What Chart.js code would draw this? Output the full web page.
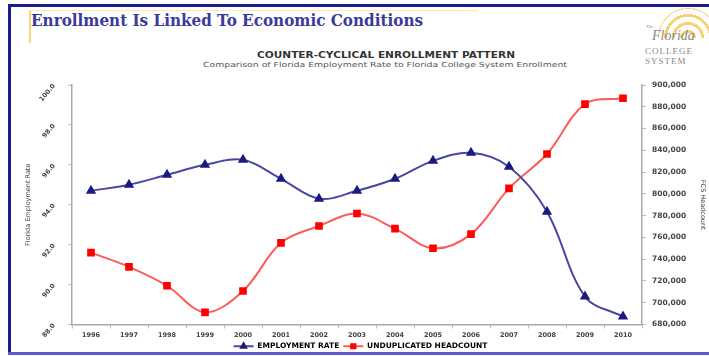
<!DOCTYPE html>
<html>
<head>
<meta charset="utf-8">
<script src="https://cdn.jsdelivr.net/npm/chart.js@4.4.1/dist/chart.umd.min.js"></script>
<style>
  html, body { margin: 0; padding: 0; background: #fff; }
  body { width: 709px; height: 356px; position: relative; overflow: hidden; }
  .abs { position: absolute; white-space: nowrap; transform-origin: 0 50%; }
  .bar { position: absolute; }
  #slideTitle { left: 31px; top: 8px; font: bold 17px "DejaVu Serif", serif; line-height: 24px; color: #3a3a9a; }
  #head1 { top: 51px; font: bold 8px "DejaVu Sans", sans-serif; line-height: 9px; color: #333; }
  #head2 { top: 61px; font: 7px "DejaVu Sans", sans-serif; line-height: 8px; color: #555; }
  #sun { position: absolute; left: 658px; top: 8px; width: 60px; height: 30px; border-radius: 30px 30px 0 0;
         background: repeating-radial-gradient(circle at 50% 100%, #fff 0 5px, #f6c64e 5px 8px); opacity: 0.8; }
  .logo { position: absolute; font-family: "Liberation Serif", serif; color: #8a8a8a; white-space: nowrap; }
  #chartBox { position: absolute; left: 12px; top: 72px; width: 697px; height: 288px; }
</style>
</head>
<body>
<div class="bar" style="left:8px;top:4px;width:701px;height:3px;background:#1c1c8e"></div>
<div class="bar" style="left:8px;top:4px;width:3px;height:351px;background:#1c1c8e"></div>
<div class="bar" style="left:8px;top:352px;width:701px;height:3px;background:#5b5bd0"></div>
<div class="bar" style="left:28px;top:10px;width:450px;height:1px;background:#fbe9b0"></div>
<div class="bar" style="left:29px;top:11px;width:2px;height:32px;background:#f8d870"></div>

<div id="slideTitle" class="abs">Enrollment Is Linked To Economic Conditions</div>

<div id="sun"></div>
<div class="logo" style="left:646px;top:24px;font-size:5px">The</div>
<div class="logo" style="left:652px;top:28px;font-size:14px;font-style:italic">Florida</div>
<div class="logo" style="left:645px;top:46px;font-size:9px;letter-spacing:1px">COLLEGE</div>
<div class="logo" style="left:645px;top:56px;font-size:9px;letter-spacing:1px">SYSTEM</div>

<div id="head1" class="abs">COUNTER-CYCLICAL ENROLLMENT PATTERN</div>
<div id="head2" class="abs">Comparison of Florida Employment Rate to Florida College System Enrollment</div>

<div id="chartBox"><canvas id="enrollChart"></canvas></div>

<script>
const years = ["1996", "1997", "1998", "1999", "2000", "2001", "2002", "2003",
  "2004", "2005", "2006", "2007", "2008", "2009", "2010"];
const employmentRate = [94.7, 95.0, 95.5, 96.0, 96.25, 95.3, 94.3, 94.7,
  95.3, 96.2, 96.6, 95.9, 93.65, 89.4, 88.4];
const headcount = [746000, 733000, 715600, 691200, 710800, 755000, 770500, 782000,
  768000, 750000, 763000, 805000, 836600, 882500, 887800];
const rateTicks = [88, 90, 92, 94, 96, 98, 100];
const headcountTicks = [680000, 700000, 720000, 740000, 760000, 780000, 800000,
  820000, 840000, 860000, 880000, 900000];

// stretch the html headings to the widths seen in the picture
function fitText(id, width, centerX) {
  const el = document.getElementById(id);
  const natural = el.getBoundingClientRect().width;
  el.style.transform = "scaleX(" + (width / natural) + ")";
  if (centerX !== undefined) el.style.left = (centerX - width / 2) + "px";
}
fitText("slideTitle", 392);
fitText("head1", 258, 386);
fitText("head2", 364, 385);

const tickFont = { family: "DejaVu Sans", size: 6.5, weight: "bold" };

// fixed axis widths, and no extra room for the end labels
function fixWidth(width) {
  return (scale) => {
    scale.width = width;
    scale.paddingTop = 0;
    scale.paddingBottom = 0;
  };
}

// legend: line with the series marker on top
const legendMarkers = {
  id: "legendMarkers",
  afterDraw(chart) {
    const legend = chart.legend;
    if (!legend || !legend.legendHitBoxes) return;
    const ctx = chart.ctx;
    const boxW = legend.options.labels.boxWidth;
    legend.legendHitBoxes.forEach((box, i) => {
      const ds = chart.data.datasets[i];
      const cy = box.top + box.height / 2;
      ctx.save();
      ctx.strokeStyle = ds.borderColor;
      ctx.lineWidth = 2;
      ctx.beginPath();
      ctx.moveTo(box.left, cy);
      ctx.lineTo(box.left + boxW, cy);
      ctx.stroke();
      ctx.fillStyle = ds.pointBackgroundColor;
      ctx.strokeStyle = ds.pointBorderColor;
      Chart.helpers.drawPoint(ctx, { pointStyle: ds.pointStyle, radius: 3, borderWidth: 1 },
        box.left + boxW / 2, cy);
      ctx.restore();
    });
  },
};

new Chart(document.getElementById("enrollChart"), {
  type: "line",
  data: {
    labels: years,
    datasets: [
      {
        label: "EMPLOYMENT RATE",
        data: employmentRate,
        yAxisID: "y",
        borderColor: "#4848a0",
        borderWidth: 2,
        tension: 0.35,
        pointStyle: "triangle",
        pointRadius: 4,
        pointBackgroundColor: "#1a1a80",
        pointBorderColor: "#1a1a80",
      },
      {
        label: "UNDUPLICATED HEADCOUNT",
        data: headcount,
        yAxisID: "y1",
        borderColor: "#ff5a5a",
        borderWidth: 2,
        tension: 0.35,
        pointStyle: "rect",
        pointRadius: 4,
        pointBackgroundColor: "#ff0000",
        pointBorderColor: "#ff0000",
      },
    ],
  },
  options: {
    responsive: true,
    maintainAspectRatio: false,
    animation: false,
    layout: { padding: { top: 13, bottom: 0 } },
    plugins: {
      tooltip: { enabled: false },
      legend: {
        position: "bottom",
        labels: {
          boxWidth: 20,
          boxHeight: 6,
          padding: 4,
          color: "#444",
          font: { family: "DejaVu Sans", size: 7.5, weight: "bold" },
          generateLabels: (chart) =>
            chart.data.datasets.map((ds, i) => ({
              text: ds.label,
              fillStyle: "rgba(0,0,0,0)",
              strokeStyle: "rgba(0,0,0,0)",
              lineWidth: 0,
              datasetIndex: i,
            })),
        },
      },
    },
    scales: {
      x: {
        offset: true,
        grid: { offset: true, drawOnChartArea: false, tickLength: 4, color: "#bbb" },
        border: { color: "#aaa", width: 1.5 },
        ticks: { font: tickFont, color: "#444", padding: 3, maxRotation: 0, autoSkip: false },
        afterFit: (scale) => { scale.height = 14; },
      },
      y: {
        position: "left",
        min: rateTicks[0],
        max: rateTicks[rateTicks.length - 1],
        grid: { drawOnChartArea: false, tickLength: 4, color: "#bbb" },
        border: { color: "#aaa", width: 1.5 },
        afterBuildTicks: (scale) => { scale.ticks = rateTicks.map((v) => ({ value: v })); },
        ticks: {
          font: tickFont,
          color: "#444",
          padding: 14,
          minRotation: 50,
          maxRotation: 50,
          callback: (v) => Number(v).toFixed(1),
        },
        title: {
          display: true,
          text: "Florida Employment Rate",
          color: "#444",
          font: { family: "DejaVu Sans", size: 6.5 },
          padding: { top: 12, bottom: 0 },
        },
        afterFit: fixWidth(60),
      },
      y1: {
        position: "right",
        min: headcountTicks[0],
        max: headcountTicks[headcountTicks.length - 1],
        grid: { drawOnChartArea: false, tickLength: 4, color: "#bbb" },
        border: { color: "#aaa", width: 1.5 },
        afterBuildTicks: (scale) => { scale.ticks = headcountTicks.map((v) => ({ value: v })); },
        ticks: {
          font: { family: "DejaVu Sans", size: 7.5, weight: "bold" },
          color: "#444",
          padding: 6,
          callback: (v) => Number(v).toLocaleString("en-US"),
        },
        title: {
          display: true,
          text: "FCS Headcount",
          color: "#444",
          font: { family: "DejaVu Sans", size: 6.5 },
          padding: { top: 2, bottom: 0 },
        },
        afterFit: fixWidth(67),
      },
    },
  },
  plugins: [legendMarkers],
});
</script>
</body>
</html>
